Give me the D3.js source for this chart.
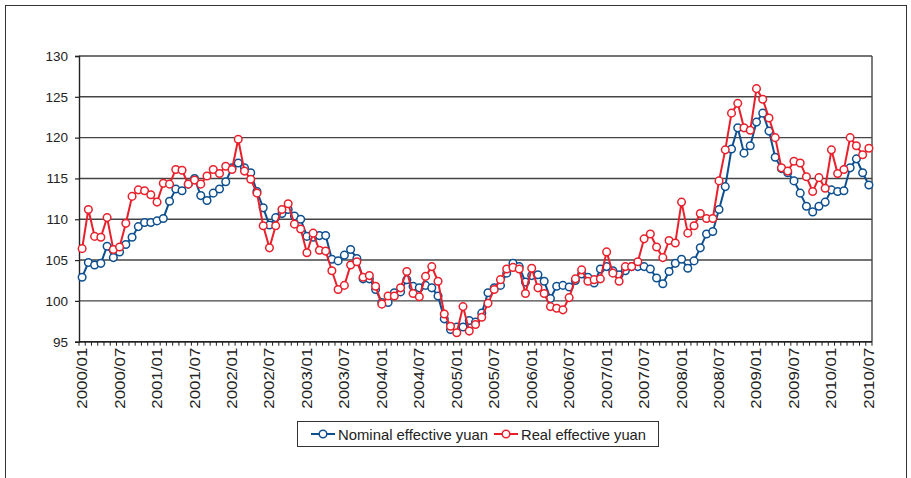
<!DOCTYPE html>
<html>
<head>
<meta charset="utf-8">
<script src="https://cdn.jsdelivr.net/npm/d3@7"></script>
<style>
  body { margin: 0; background: #fff; }
  svg { display: block; font-family: 'Liberation Sans', Arial, sans-serif; }
</style>
</head>
<body>
<svg id="chart" width="911" height="478"></svg>
<script>
// monthly index values, 2000/01 .. 2010/07
const nominal = [
  102.9, 104.7, 104.4, 104.6, 106.7, 105.3, 106.0, 106.9, 107.8, 109.1, 109.6, 109.6,
  109.8, 110.1, 112.2, 113.7, 113.5, 114.3, 115.0, 112.9, 112.3, 113.2, 113.7, 114.6,
  116.3, 116.9, 116.3, 115.7, 113.4, 111.4, 109.3, 110.2, 110.7, 111.2, 110.4, 110.0,
  107.9, 107.8, 108.0, 108.0, 105.1, 104.9, 105.6, 106.3, 105.2, 102.7, 102.7, 101.4,
  99.8, 99.8, 101.0, 101.1, 102.6, 101.8, 101.6, 101.9, 101.6, 100.6, 97.8, 96.5,
  96.8, 96.8, 97.6, 97.4, 98.5, 101.0, 101.6, 101.9, 103.4, 104.6, 104.2, 102.3,
  103.1, 103.2, 102.4, 100.3, 101.8, 101.9, 101.7, 102.5, 103.3, 102.9, 102.2, 103.9,
  104.2, 103.7, 103.2, 103.7, 104.2, 104.2, 104.2, 103.9, 102.8, 102.1, 103.6, 104.6,
  105.1, 104.0, 104.9, 106.5, 108.2, 108.5, 111.2, 114.0, 118.6, 121.2, 118.1, 119.0,
  121.9, 123.0, 120.8, 117.6, 116.2, 115.7, 114.7, 113.2, 111.6, 110.9, 111.6, 112.1,
  113.6, 113.4, 113.5, 116.3, 117.4, 115.7, 114.2
]
const real = [
  106.4, 111.2, 107.9, 107.8, 110.2, 106.3, 106.6, 109.5, 112.8, 113.6, 113.5, 113.0,
  112.1, 114.4, 114.3, 116.1, 116.0, 114.3, 114.8, 114.3, 115.3, 116.1, 115.6, 116.5,
  116.1, 119.8, 115.9, 114.9, 113.2, 109.2, 106.5, 109.2, 111.2, 111.9, 109.4, 108.8,
  105.9, 108.3, 106.2, 106.1, 103.7, 101.4, 101.9, 104.4, 104.8, 102.9, 103.1, 101.8,
  99.6, 100.6, 100.6, 101.6, 103.6, 100.9, 100.5, 103.0, 104.2, 102.4, 98.4, 96.9,
  96.1, 99.3, 96.3, 97.1, 98.0, 99.7, 101.4, 102.6, 103.9, 104.1, 103.9, 100.9,
  104.0, 101.6, 100.9, 99.3, 99.1, 98.9, 100.4, 102.7, 103.8, 102.4, 102.6, 102.7,
  106.0, 103.4, 102.4, 104.2, 104.2, 104.8, 107.6, 108.2, 106.6, 105.3, 107.4, 107.1,
  112.1, 108.3, 109.2, 110.7, 110.1, 110.1, 114.7, 118.5, 123.0, 124.2, 121.2, 120.9,
  126.0, 124.7, 122.4, 120.0, 116.3, 115.9, 117.1, 116.9, 115.2, 113.4, 115.1, 113.8,
  118.5, 115.6, 116.1, 120.0, 119.0, 117.9, 118.7
]
const yTicks = [95, 100, 105, 110, 115, 120, 125, 130]
const seriesNames = ['Nominal effective yuan', 'Real effective yuan']
const seriesColors = ['#0d4f8f', '#e8202b']

// category labels: one per month
const months = []
for (let yr = 2000; months.length < nominal.length; yr++) {
  for (let m = 1; m <= 12 && months.length < nominal.length; m++) {
    months.push(yr + '/' + String(m).padStart(2, '0'))
  }
}
const labelMonths = months.filter((d, i) => i % 6 === 0)

const svg = d3.select('#chart')
const plotLeft = 79
const plotRight = 872
const plotTop = 56
const plotBottom = 341.7

// outer frame
svg.append('rect')
  .attr('x', 5.5).attr('y', 5.5).attr('width', 901).attr('height', 490)
  .attr('fill', 'none').attr('stroke', '#333').attr('stroke-width', 1)

const x = d3.scaleBand().domain(months).range([plotLeft, plotRight]).padding(0)
const y = d3.scaleLinear().domain([95, 130]).range([plotBottom, plotTop])
const cx = d => x(d) + x.bandwidth() / 2

// gridlines
svg.append('g').selectAll('line')
  .data(yTicks).enter().append('line')
  .attr('x1', plotLeft).attr('x2', plotRight)
  .attr('y1', d => y(d)).attr('y2', d => y(d))
  .attr('stroke', '#444').attr('stroke-width', 1.4)

// right border of plot
svg.append('line')
  .attr('x1', plotRight).attr('x2', plotRight).attr('y1', plotTop).attr('y2', plotBottom)
  .attr('stroke', '#444').attr('stroke-width', 1.4)

// y axis
const yAxis = svg.append('g')
  .attr('transform', `translate(${plotLeft},0)`)
  .call(d3.axisLeft(y).tickValues(yTicks).tickSize(4).tickPadding(7).tickFormat(d3.format('d')))
yAxis.select('.domain').attr('stroke', '#222').attr('stroke-width', 1.4)
yAxis.selectAll('.tick line').attr('stroke', '#222').attr('stroke-width', 1.2)
yAxis.selectAll('text').attr('font-size', 13.5).attr('fill', '#222')

// x axis: minor ticks between categories, labels every six months
const xg = svg.append('g')
xg.append('line')
  .attr('x1', plotLeft).attr('x2', plotRight).attr('y1', plotBottom).attr('y2', plotBottom)
  .attr('stroke', '#222').attr('stroke-width', 1.4)
xg.selectAll('line.tick')
  .data(months.concat([null])).enter().append('line').attr('class', 'tick')
  .attr('x1', (d, i) => plotLeft + i * x.bandwidth())
  .attr('x2', (d, i) => plotLeft + i * x.bandwidth())
  .attr('y1', plotBottom).attr('y2', plotBottom + 4)
  .attr('stroke', '#222').attr('stroke-width', 1)
xg.selectAll('text')
  .data(labelMonths).enter().append('text')
  .attr('transform', d => `translate(${cx(d) + 5},${plotBottom + 6}) rotate(-90)`)
  .attr('text-anchor', 'end')
  .attr('font-size', 14).attr('fill', '#222')
  .attr('textLength', 61).attr('lengthAdjust', 'spacingAndGlyphs')
  .text(d => d)

// series
const series = [nominal, real]
const line = d3.line().x((d, i) => cx(months[i])).y(d => y(d))
series.forEach((vals, k) => {
  const g = svg.append('g')
  g.append('path')
    .attr('d', line(vals))
    .attr('fill', 'none').attr('stroke', seriesColors[k]).attr('stroke-width', 2)
  g.selectAll('circle')
    .data(vals).enter().append('circle')
    .attr('cx', (d, i) => cx(months[i]))
    .attr('cy', d => y(d))
    .attr('r', 3.8)
    .attr('fill', '#fff').attr('stroke', seriesColors[k]).attr('stroke-width', 1.5)
})

// legend
const legendItems = [
  { name: seriesNames[0], color: seriesColors[0], x: 311, w: 150 },
  { name: seriesNames[1], color: seriesColors[1], x: 494, w: 125 }
]
const lg = svg.append('g')
lg.append('rect')
  .attr('x', 297.5).attr('y', 421.5).attr('width', 361).attr('height', 25)
  .attr('fill', '#fff').attr('stroke', '#333').attr('stroke-width', 1)
legendItems.forEach(it => {
  lg.append('line')
    .attr('x1', it.x).attr('x2', it.x + 24).attr('y1', 434).attr('y2', 434)
    .attr('stroke', it.color).attr('stroke-width', 2)
  lg.append('circle')
    .attr('cx', it.x + 12).attr('cy', 434).attr('r', 3.8)
    .attr('fill', '#fff').attr('stroke', it.color).attr('stroke-width', 1.5)
  lg.append('text')
    .attr('x', it.x + 27).attr('y', 439.5)
    .attr('font-family', "'Liberation Sans Narrow', 'Liberation Sans', Arial, sans-serif")
    .attr('font-size', 15).attr('fill', '#222')
    .attr('textLength', it.w).attr('lengthAdjust', 'spacingAndGlyphs')
    .text(it.name)
})
</script>
</body>
</html>
